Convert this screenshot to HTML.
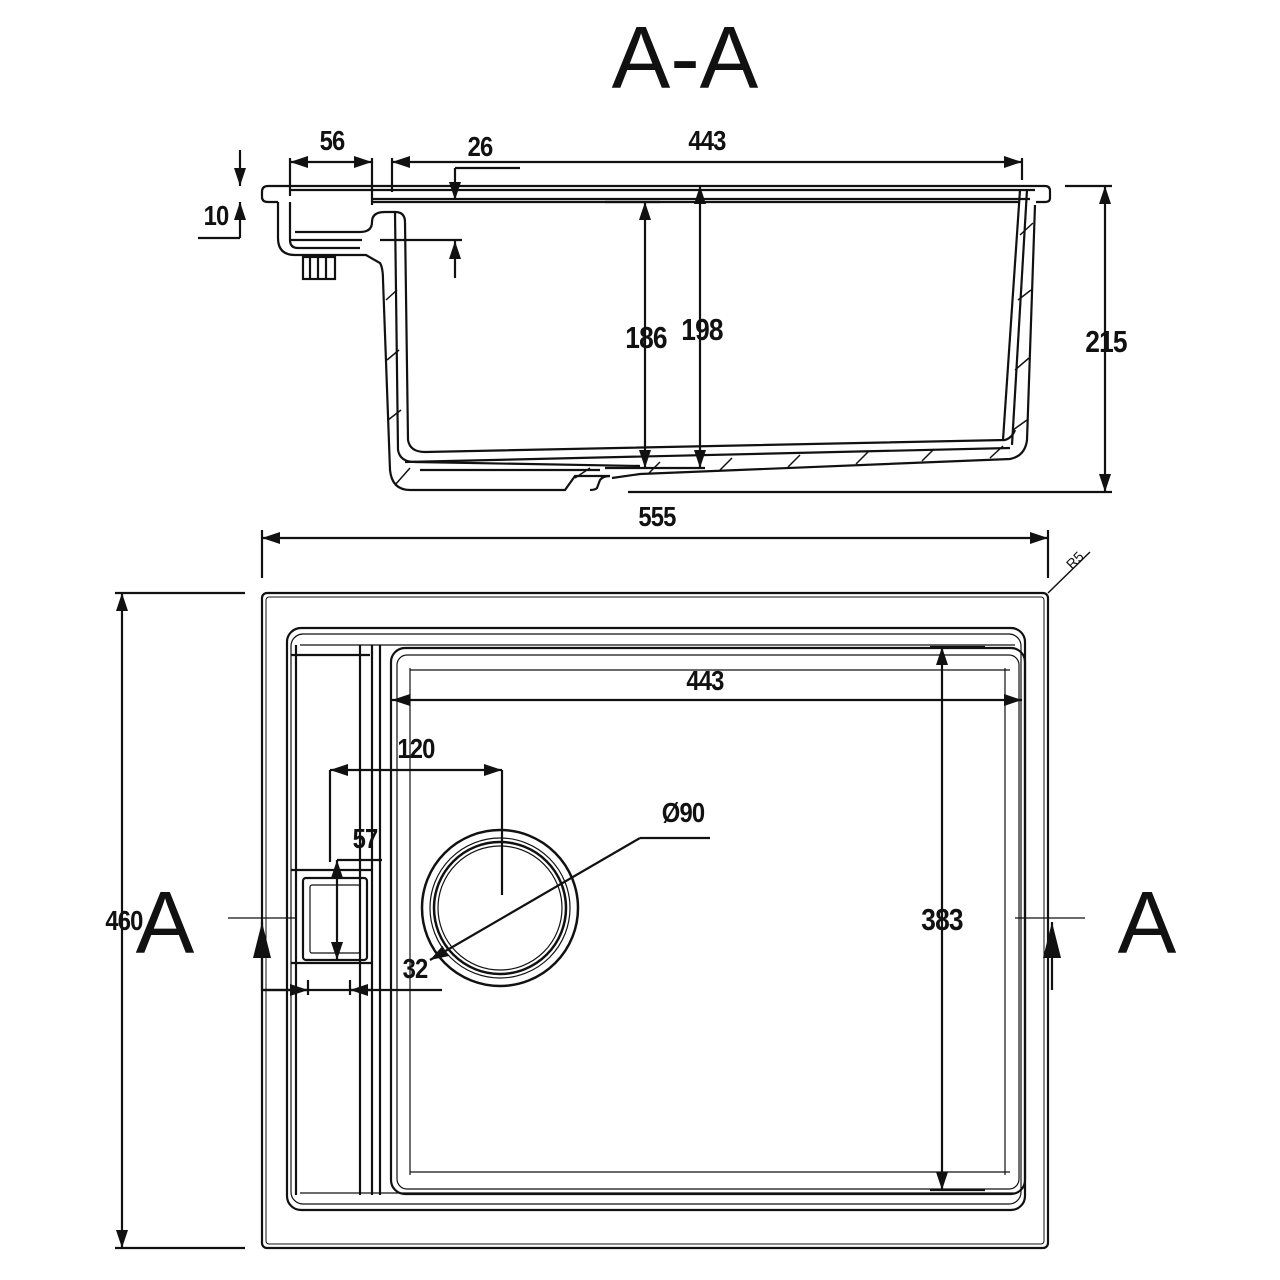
<!DOCTYPE html>
<html><head><meta charset="utf-8"><style>
html,body{margin:0;padding:0;background:#fff}
svg{display:block}
text{font-family:"Liberation Sans",sans-serif;font-weight:bold;fill:#111}
.d{letter-spacing:-1px}
</style></head><body>
<svg width="1280" height="1280" viewBox="0 0 1280 1280" xmlns="http://www.w3.org/2000/svg">
<defs>
<marker id="a" viewBox="0 0 10 10" refX="10" refY="5" markerWidth="18" markerHeight="12" markerUnits="userSpaceOnUse" orient="auto-start-reverse" preserveAspectRatio="none"><path d="M0,0 L10,5 L0,10 z" fill="#111"/></marker>
<marker id="b" viewBox="0 0 10 10" refX="10" refY="5" markerWidth="36" markerHeight="18" markerUnits="userSpaceOnUse" orient="auto-start-reverse" preserveAspectRatio="none"><path d="M0,0 L10,5 L0,10 z" fill="#111"/></marker>
</defs>
<text x="685" y="88" font-size="88" text-anchor="middle" style="font-weight:normal">A-A</text>

<!-- SECTION VIEW -->
<g fill="none" stroke="#111" stroke-width="2.2">
<path d="M268,186 L1045,186 Q1050,186 1050,191 L1050,198 Q1050,202 1045,202 L1036,202"/>
<path d="M268,186 Q262,186 262,192 L262,197 Q262,202 268,202 L278,202"/>
<line x1="290" y1="190" x2="1035" y2="190"/>
<line x1="372" y1="199" x2="1030" y2="199"/>
<line x1="372" y1="202" x2="1020" y2="202"/>
<path d="M278,202 L278,238 Q278,255 295,255 L366,255 L380,263 Q383,268 383,280 L390,470 Q392,490 410,490 L565,490 L575,476 L610,476"/>
<path d="M290,202 L290,240 Q290,248 298,248 L360,248"/>
<path d="M295,232 L360,232 Q372,232 372,222 Q372,212 385,212 L395,212 Q405,212 405,222 L408,440 Q410,452 425,452"/>
<line x1="290" y1="240" x2="362" y2="240"/>
<path d="M395,212 L398,450 Q400,462 415,462 L640,466"/>
<rect x="303" y="257" width="32" height="22"/>
<line x1="310" y1="257" x2="310" y2="279"/><line x1="318" y1="257" x2="318" y2="279"/><line x1="326" y1="257" x2="326" y2="279"/>
<path d="M425,452 L1005,440 Q1012,438 1015,430"/>
<path d="M405,462 L1010,448"/>
<path d="M420,470 L600,470"/>
<path d="M612,478 L640,474 L1010,459 Q1025,456 1027,440 L1035,205"/>
<path d="M1020,190 L1003,440"/>
<path d="M1027,190 L1012,445"/>
<path d="M610,476 Q603,476 600,480 L597,488 Q595,490 590,490"/>
<g stroke-width="1.5">
<line x1="386" y1="300" x2="397" y2="290"/><line x1="387" y1="360" x2="399" y2="350"/><line x1="388" y1="420" x2="401" y2="410"/>
<line x1="395" y1="485" x2="410" y2="468"/><line x1="575" y1="478" x2="590" y2="468"/>
<line x1="648" y1="474" x2="660" y2="462"/><line x1="720" y1="470" x2="732" y2="458"/><line x1="788" y1="467" x2="800" y2="455"/><line x1="856" y1="464" x2="868" y2="452"/><line x1="922" y1="461" x2="934" y2="449"/><line x1="990" y1="458" x2="1003" y2="446"/>
<line x1="1020" y1="235" x2="1033" y2="223"/><line x1="1018" y1="300" x2="1031" y2="290"/><line x1="1015" y1="370" x2="1029" y2="358"/><line x1="1013" y1="430" x2="1027" y2="420"/>
</g>
<line x1="290" y1="162" x2="372" y2="162" marker-start="url(#a)" marker-end="url(#a)"/>
<line x1="290" y1="158" x2="290" y2="196"/><line x1="372" y1="158" x2="372" y2="205"/>
<line x1="392" y1="162" x2="1022" y2="162" marker-start="url(#a)" marker-end="url(#a)"/>
<line x1="392" y1="158" x2="392" y2="192"/><line x1="1022" y1="158" x2="1022" y2="180"/>
<line x1="455" y1="168" x2="520" y2="168"/>
<line x1="455" y1="168" x2="455" y2="200" marker-end="url(#a)"/>
<line x1="455" y1="278" x2="455" y2="241" marker-end="url(#a)"/>
<line x1="380" y1="240" x2="462" y2="240"/>
<line x1="240" y1="150" x2="240" y2="186" marker-end="url(#a)"/>
<line x1="240" y1="238" x2="240" y2="202" marker-end="url(#a)"/>
<line x1="198" y1="238" x2="240" y2="238"/>
<line x1="605" y1="202" x2="660" y2="202"/>
<line x1="645" y1="202" x2="645" y2="468" marker-start="url(#a)" marker-end="url(#a)"/>
<line x1="700" y1="186" x2="700" y2="468" marker-start="url(#a)" marker-end="url(#a)"/>
<line x1="605" y1="468" x2="705" y2="468"/>
<line x1="1065" y1="186" x2="1112" y2="186"/>
<line x1="628" y1="492" x2="1112" y2="492"/>
<line x1="1105" y1="186" x2="1105" y2="492" marker-start="url(#a)" marker-end="url(#a)"/>
<line x1="262" y1="538" x2="1048" y2="538" marker-start="url(#a)" marker-end="url(#a)"/>
<line x1="262" y1="530" x2="262" y2="578"/><line x1="1048" y1="530" x2="1048" y2="578"/>
<line x1="1048" y1="593" x2="1090" y2="552" stroke-width="1.5"/>
</g>
<g class="d">
<text x="332" y="150" font-size="28" text-anchor="middle" transform="translate(332 0) scale(0.85 1) translate(-332 0)">56</text>
<text x="480" y="156" font-size="28" text-anchor="middle" transform="translate(480 0) scale(0.85 1) translate(-480 0)">26</text>
<text x="707" y="150" font-size="28" text-anchor="middle" transform="translate(707 0) scale(0.85 1) translate(-707 0)">443</text>
<text x="216" y="225" font-size="28" text-anchor="middle" transform="translate(216 0) scale(0.85 1) translate(-216 0)">10</text>
<text x="646" y="348" font-size="31" text-anchor="middle" transform="translate(646 0) scale(0.85 1) translate(-646 0)">186</text>
<text x="702" y="340" font-size="31" text-anchor="middle" transform="translate(702 0) scale(0.85 1) translate(-702 0)">198</text>
<text x="1106" y="352" font-size="31" text-anchor="middle" transform="translate(1106 0) scale(0.85 1) translate(-1106 0)">215</text>
<text x="657" y="526" font-size="28" text-anchor="middle" transform="translate(657 0) scale(0.85 1) translate(-657 0)">555</text>
</g>
<text x="1072" y="570" font-size="14" style="font-weight:normal" transform="rotate(-45 1072 570)">R5</text>

<!-- PLAN VIEW -->
<g fill="none" stroke="#111" stroke-width="2.2">
<rect x="262" y="593" width="786" height="655" rx="5"/>
<rect x="266" y="597" width="778" height="647" rx="3" stroke-width="1"/>
<rect x="287" y="628" width="738" height="582" rx="14"/>
<rect x="291" y="634" width="730" height="570" rx="12" stroke-width="1.2"/>
<line x1="300" y1="645" x2="1015" y2="645" stroke-width="1.2"/>
<line x1="300" y1="1193" x2="1015" y2="1193" stroke-width="1.2"/>
<line x1="296" y1="645" x2="296" y2="1195"/>
<line x1="360" y1="645" x2="360" y2="1195"/>
<line x1="372" y1="645" x2="372" y2="1195"/>
<line x1="380" y1="645" x2="380" y2="1195"/>
<line x1="291" y1="655" x2="370" y2="655"/>
<rect x="391" y="648" width="634" height="546" rx="14"/>
<rect x="397" y="655" width="622" height="534" rx="10" stroke-width="1.2"/>
<line x1="410" y1="670" x2="1010" y2="670" stroke-width="1.2"/>
<line x1="410" y1="1172" x2="1010" y2="1172" stroke-width="1.2"/>
<line x1="410" y1="668" x2="410" y2="1175" stroke-width="1.2"/>
<line x1="1005" y1="668" x2="1005" y2="1175" stroke-width="1.2"/>
<rect x="303" y="878" width="64" height="82" rx="3"/>
<rect x="310" y="885" width="50" height="68" rx="2" stroke-width="1.2"/>
<line x1="291" y1="870" x2="372" y2="870"/>
<line x1="291" y1="963" x2="372" y2="963"/>
<circle cx="500" cy="908" r="78" stroke-width="2.5"/>
<circle cx="500" cy="908" r="70" stroke-width="1.2"/>
<circle cx="500" cy="908" r="66" stroke-width="2.5"/>
<circle cx="500" cy="908" r="62" stroke-width="1.2"/>
<line x1="392" y1="700" x2="1022" y2="700" marker-start="url(#a)" marker-end="url(#a)"/>
<line x1="942" y1="647" x2="942" y2="1190" marker-start="url(#a)" marker-end="url(#a)"/>
<line x1="930" y1="647" x2="985" y2="647"/><line x1="930" y1="1190" x2="985" y2="1190"/>
<line x1="122" y1="593" x2="122" y2="1248" marker-start="url(#a)" marker-end="url(#a)"/>
<line x1="115" y1="593" x2="245" y2="593"/><line x1="115" y1="1248" x2="245" y2="1248"/>
<line x1="330" y1="770" x2="502" y2="770" marker-start="url(#a)" marker-end="url(#a)"/>
<line x1="330" y1="770" x2="330" y2="862"/><line x1="502" y1="770" x2="502" y2="895"/>
<line x1="337" y1="860" x2="382" y2="860"/>
<line x1="337" y1="860" x2="337" y2="960" marker-start="url(#a)" marker-end="url(#a)"/>
<line x1="262" y1="990" x2="442" y2="990"/>
<line x1="262" y1="990" x2="308" y2="990" marker-end="url(#a)"/>
<line x1="372" y1="990" x2="350" y2="990" marker-end="url(#a)"/>
<line x1="308" y1="980" x2="308" y2="995"/><line x1="350" y1="980" x2="350" y2="995"/>
<line x1="430" y1="960" x2="640" y2="838" marker-start="url(#a)"/>
<line x1="640" y1="838" x2="710" y2="838"/>
<line x1="228" y1="918" x2="295" y2="918" stroke-width="1.2"/>
<line x1="1015" y1="918" x2="1085" y2="918" stroke-width="1.2"/>
<line x1="262" y1="990" x2="262" y2="922" marker-end="url(#b)"/>
<line x1="1052" y1="990" x2="1052" y2="922" marker-end="url(#b)"/>
</g>
<g class="d">
<text x="705" y="690" font-size="28" text-anchor="middle" transform="translate(705 0) scale(0.85 1) translate(-705 0)">443</text>
<text x="942" y="930" font-size="31" text-anchor="middle" transform="translate(942 0) scale(0.85 1) translate(-942 0)">383</text>
<text x="124" y="930" font-size="28" text-anchor="middle" transform="translate(124 0) scale(0.85 1) translate(-124 0)">460</text>
<text x="416" y="758" font-size="28" text-anchor="middle" transform="translate(416 0) scale(0.85 1) translate(-416 0)">120</text>
<text x="365" y="848" font-size="28" text-anchor="middle" transform="translate(365 0) scale(0.85 1) translate(-365 0)">57</text>
<text x="415" y="978" font-size="28" text-anchor="middle" transform="translate(415 0) scale(0.85 1) translate(-415 0)">32</text>
<text x="683" y="822" font-size="28" text-anchor="middle" transform="translate(683 0) scale(0.85 1) translate(-683 0)">Ø90</text>
</g>
<text x="165" y="953" font-size="88" text-anchor="middle" style="font-weight:normal">A</text>
<text x="1147" y="953" font-size="88" text-anchor="middle" style="font-weight:normal">A</text>
</svg>
</body></html>
